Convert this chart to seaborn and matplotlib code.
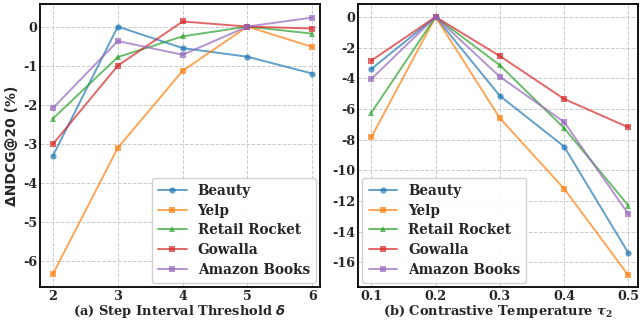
import matplotlib
matplotlib.use("Agg")
import matplotlib.pyplot as plt
import pandas as pd
import seaborn as sns

# ─── Data ───
DATASETS = ["Beauty", "Yelp", "Retail Rocket", "Gowalla", "Amazon Books"]
MARKERS = ["o", "s", "^", "s", "s"]

DELTA = [2, 3, 4, 5, 6]
delta_beauty = [-3.3, 0.0, -0.55, -0.77, -1.2]
delta_yelp = [-6.32, -3.1, -1.13, 0.0, -0.52]
delta_retail = [-2.35, -0.78, -0.25, 0.0, -0.18]
delta_gowalla = [-3.0, -1.0, 0.13, 0.0, -0.05]
delta_books = [-2.08, -0.37, -0.72, 0.0, 0.23]

TAU = [0.1, 0.2, 0.3, 0.4, 0.5]
tau_beauty = [-3.4, 0.0, -5.15, -8.45, -15.4]
tau_yelp = [-7.85, 0.0, -6.6, -11.2, -16.85]
tau_retail = [-6.25, 0.0, -3.15, -7.25, -12.3]
tau_gowalla = [-2.85, 0.0, -2.55, -5.35, -7.2]
tau_books = [-4.05, 0.0, -3.9, -6.85, -12.85]


def to_long(x, series):
    rows = []
    for name, vals in zip(DATASETS, series):
        for xv, yv in zip(x, vals):
            rows.append({"x": xv, "y": yv, "Dataset": name})
    return pd.DataFrame(rows)


df_a = to_long(DELTA, [delta_beauty, delta_yelp, delta_retail, delta_gowalla, delta_books])
df_b = to_long(TAU, [tau_beauty, tau_yelp, tau_retail, tau_gowalla, tau_books])

sns.set_style("whitegrid", {"grid.linestyle": "--", "axes.edgecolor": "black"})
plt.rcParams["font.family"] = "DejaVu Serif"
plt.rcParams["font.weight"] = "bold"
plt.rcParams["axes.unicode_minus"] = False

fig = plt.figure(figsize=(6.4, 3.22), dpi=100)
ax1 = fig.add_axes([0.0625, 0.109, 0.4375, 0.879])
ax2 = fig.add_axes([0.56, 0.109, 0.437, 0.879])

palette = sns.color_palette("tab10", 5)

for ax, df in [(ax1, df_a), (ax2, df_b)]:
    sns.lineplot(
        data=df, x="x", y="y", hue="Dataset", style="Dataset",
        markers=MARKERS, dashes=False, palette=palette, ax=ax,
        alpha=0.7, linewidth=1.4, markersize=4.5, markeredgewidth=0,
    )
    ax.grid(True, linestyle="--", color="#cccccc", linewidth=0.7)
    for sp in ax.spines.values():
        sp.set_color("black")
        sp.set_linewidth(1.3)
    ax.tick_params(labelsize=9.2, pad=2.0, length=0)
    for lab in ax.get_xticklabels() + ax.get_yticklabels():
        lab.set_fontweight("bold")
    ax.set_ylabel("")
    ax.legend(
        prop={"family": "DejaVu Serif", "weight": "bold", "size": 9.8},
        loc="lower right" if ax is ax1 else "lower left",
        frameon=True, framealpha=0.9, edgecolor="#cccccc",
        handlelength=2.1, labelspacing=0.42, borderpad=0.45,
        borderaxespad=0.3,
    )

ax1.set_xticks(DELTA)
ax1.set_xlim(1.8, 6.12)
ax1.set_ylim(-6.65, 0.58)
ax1.set_yticks([0, -1, -2, -3, -4, -5, -6])
ax1.set_xlabel(r"(a) Step Interval Threshold $\boldsymbol{\delta}$", fontsize=9.4,
               fontweight="bold", labelpad=0.5, math_fontfamily="dejavusans")
ax1.set_ylabel("ΔNDCG@20 (%)", family="DejaVu Sans", fontweight="bold",
               fontsize=10, labelpad=3)

ax2.set_xticks(TAU)
ax2.set_xlim(0.08, 0.515)
ax2.set_ylim(-17.6, 0.85)
ax2.set_yticks([0, -2, -4, -6, -8, -10, -12, -14, -16])
ax2.set_xlabel(r"(b) Contrastive Temperature $\tau_2$", fontsize=9.4,
               fontweight="bold", labelpad=0.5, math_fontfamily="dejavuserif")

fig.savefig("out.png", dpi=100)
